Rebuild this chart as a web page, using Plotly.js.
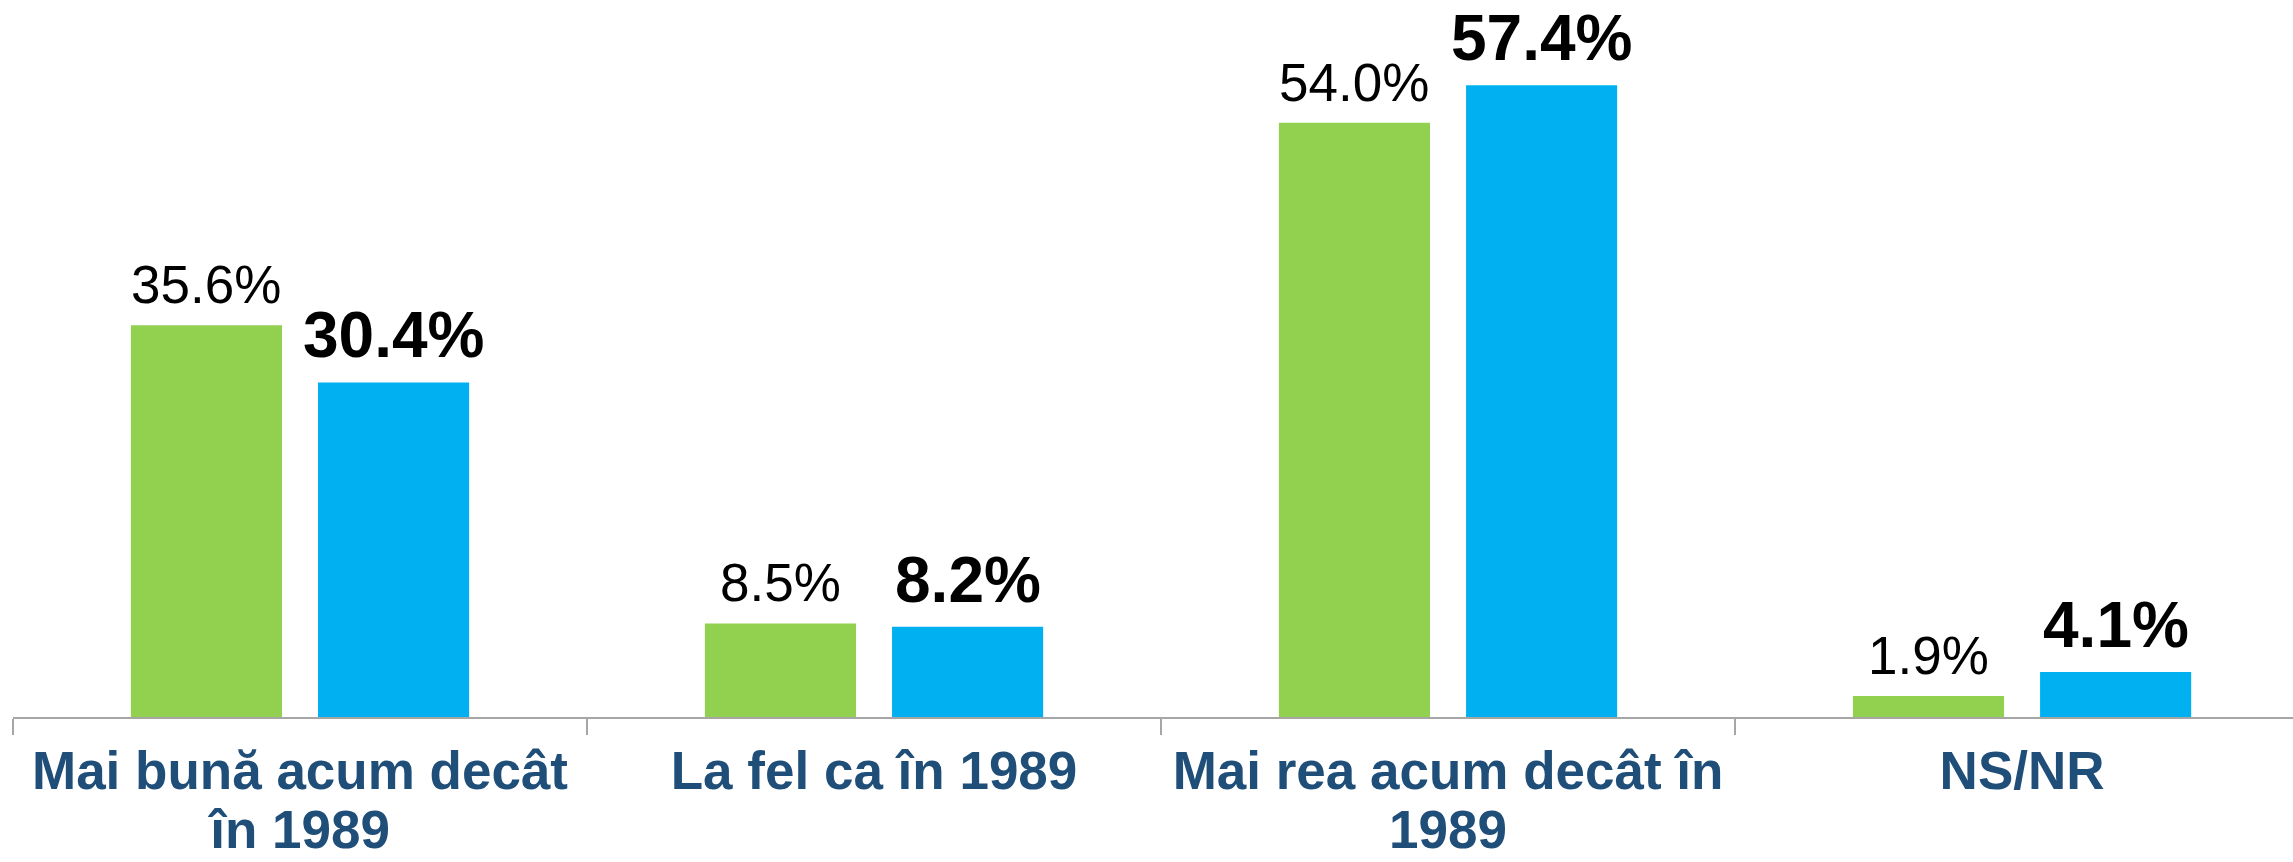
<!DOCTYPE html>
<html>
<head>
<meta charset="utf-8">
<script src="https://cdn.plot.ly/plotly-3.0.1.min.js"></script>
<style>
html,body{margin:0;padding:0;background:#fff;}
#chart{width:2293px;height:862px;}
</style>
</head>
<body>
<div id="chart"></div>
<script>
const categories = ["Mai bună acum decât<br>în 1989", "La fel ca în 1989", "Mai rea acum decât în<br>1989", "NS/NR"];
const seriesA = [35.6, 8.5, 54.0, 1.9];   // green series
const seriesB = [30.4, 8.2, 57.4, 4.1];   // blue series

const W = 2293, H = 862;
const margin = {l: 13, r: 0, t: 0, b: 145, pad: 0};
const xRange = [-0.5, 3.472];
const bargap = 0.348, bargroupgap = 0.1925;
const fontFam = 'Liberation Sans, Arial, sans-serif';
const tickGlyphSize = 53;   // size of the category label glyphs
const tickLineBase = 45;    // base size that sets the line spacing (1.3 x base)

const traceA = {
  type: 'bar', x: categories, y: seriesA, name: 'A',
  marker: {color: '#92D050'}, hoverinfo: 'none'
};
const traceB = {
  type: 'bar', x: categories, y: seriesB, name: 'B',
  marker: {color: '#00B0F0'}, hoverinfo: 'none'
};

// value labels positioned through the axes, offset by half a bar slot
const catPx = (W - margin.l - margin.r) / (xRange[1] - xRange[0]);
const slotPx = catPx * (1 - bargap) / 2;
const annotations = [];
[seriesA, seriesB].forEach((vals, s) => {
  vals.forEach((v, i) => {
    annotations.push({
      x: categories[i], y: v, xref: 'x', yref: 'y',
      text: v.toFixed(1) + '%', showarrow: false,
      xanchor: 'center', yanchor: 'bottom',
      xshift: (s === 0 ? -1 : 1) * slotPx / 2, yshift: 9,
      font: s === 0 ? {family: fontFam, size: 53, color: '#000000'}
                    : {family: fontFam, size: 64, color: '#000000', weight: 'bold'}
    });
  });
});

const tickText = categories.map(c => c.split('<br>')
  .map(line => '<span style="font-size:' + tickGlyphSize + 'px">' + line + '</span>')
  .join('<br>'));

const layout = {
  width: W, height: H,
  margin: margin,
  paper_bgcolor: '#ffffff', plot_bgcolor: '#ffffff',
  showlegend: false,
  barmode: 'group', bargap: bargap, bargroupgap: bargroupgap,
  annotations: annotations,
  xaxis: {
    type: 'category',
    range: xRange,
    tickmode: 'array', tickvals: categories, ticktext: tickText,
    showline: true, linecolor: '#A6A6A6', linewidth: 2,
    ticks: 'outside', tickson: 'boundaries', ticklen: 16, tickwidth: 2, tickcolor: '#A6A6A6',
    ticklabelstandoff: 16,
    tickfont: {family: fontFam, size: tickLineBase, color: '#1F4E79', weight: 'bold'},
    showgrid: false, zeroline: false, fixedrange: true
  },
  yaxis: {
    range: [0, 65.15],
    showgrid: false, zeroline: false, showline: false, showticklabels: false, ticks: '', fixedrange: true
  }
};

Plotly.newPlot('chart', [traceA, traceB], layout, {displayModeBar: false, staticPlot: true});
</script>
</body>
</html>
